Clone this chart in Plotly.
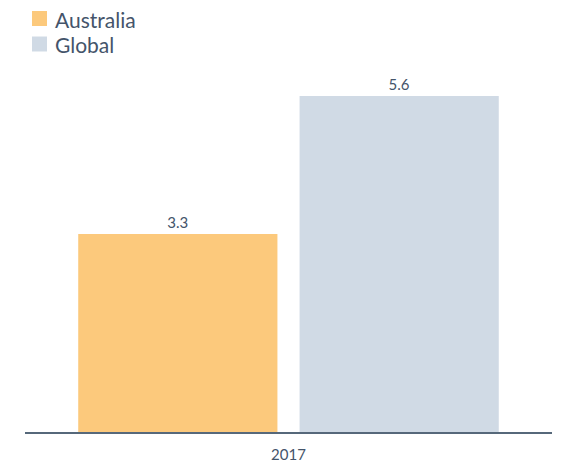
import plotly.graph_objects as go

years = ["2017"]
australia = [3.3]
global_vals = [5.6]
series_names = ["Australia", "Global"]
series_colors = ["#fcc97c", "#d0dae5"]

text_color = "#44546a"
font_family = "Lato, 'Open Sans', sans-serif"

W, H = 570, 464
M = dict(l=25, r=18, t=60, b=32)
plot_w = W - M["l"] - M["r"]
plot_h = H - M["t"] - M["b"]


def px_x(px):
    return (px - M["l"]) / plot_w


def px_y(py):
    return (H - M["b"] - py) / plot_h


fig = go.Figure()
for name, vals, color in zip(series_names, [australia, global_vals], series_colors):
    fig.add_trace(go.Bar(
        name=name, x=years, y=vals,
        marker=dict(color=color, line=dict(width=0)),
        text=[f"{v:.1f}" for v in vals], textposition="outside",
        textfont=dict(size=15, color=text_color), cliponaxis=False,
        showlegend=False,
    ))

# compact legend: square swatch plus label per series
shapes, annotations = [], []
for i, (name, color) in enumerate(zip(series_names, series_colors)):
    top = 11 + i * 25.5
    shapes.append(dict(
        type="rect", xref="paper", yref="paper",
        x0=px_x(32), x1=px_x(47), y0=px_y(top + 15), y1=px_y(top),
        fillcolor=color, line=dict(width=0),
    ))
    annotations.append(dict(
        xref="paper", yref="paper", x=px_x(53), y=px_y(top + 8),
        xanchor="left", yanchor="middle", showarrow=False,
        text=name, font=dict(size=21, color=text_color, family=font_family),
    ))

fig.update_layout(
    width=W, height=H,
    margin=dict(**M, autoexpand=False),
    paper_bgcolor="white", plot_bgcolor="white",
    barmode="group", bargap=0.16, bargroupgap=0.1,
    font=dict(family=font_family, color=text_color),
    showlegend=False,
    shapes=shapes, annotations=annotations,
    xaxis=dict(
        showline=True, linecolor="#56687a", linewidth=2,
        ticks="", tickfont=dict(size=15, color=text_color),
        ticklabelstandoff=8,
        showgrid=False,
    ),
    yaxis=dict(
        range=[0, 6.2], visible=False, showgrid=False, zeroline=False,
    ),
)

fig.write_html("out.html")
